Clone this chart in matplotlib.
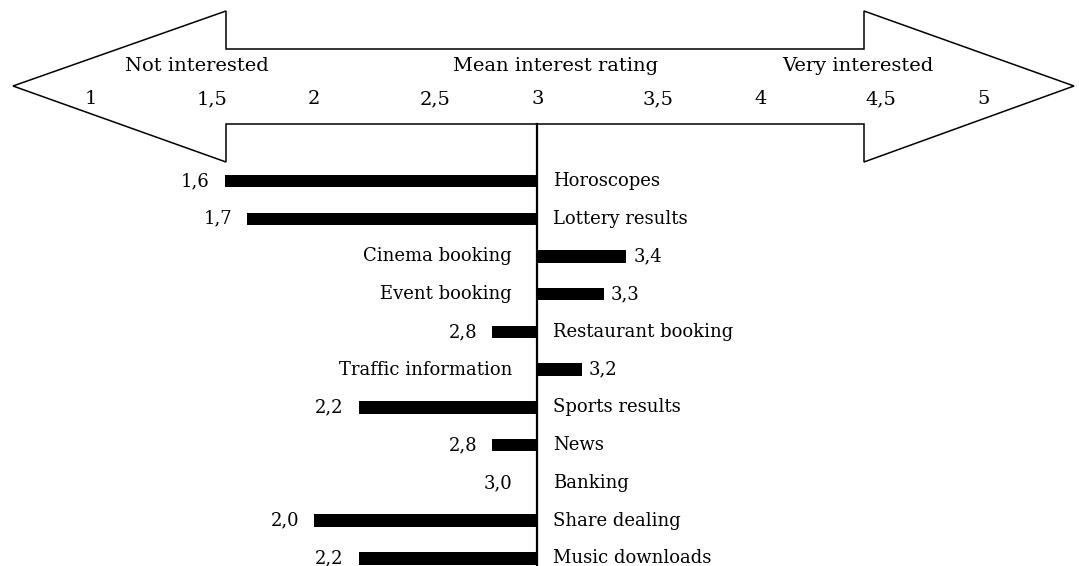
import matplotlib.pyplot as plt
from matplotlib.patches import Polygon
from matplotlib.transforms import blended_transform_factory

categories = ['Horoscopes', 'Lottery results', 'Cinema booking', 'Event booking',
              'Restaurant booking', 'Traffic information', 'Sports results', 'News',
              'Banking', 'Share dealing', 'Music downloads']
ratings = [1.6, 1.7, 3.4, 3.3, 2.8, 3.2, 2.2, 2.8, 3.0, 2.0, 2.2]
scale_ticks = [1, 1.5, 2, 2.5, 3, 3.5, 4, 4.5, 5]
scale_labels = ['1', '1,5', '2', '2,5', '3', '3,5', '4', '4,5', '5']
midpoint = 3

font = 'DejaVu Serif'
plt.rcParams['font.family'] = font

fig = plt.figure(figsize=(10.79, 5.66), dpi=100)

# background axes in pixel units for the double arrow
bg = fig.add_axes([0, 0, 1, 1])
bg.set_xlim(0, 1079)
bg.set_ylim(566, 0)
bg.axis('off')

arrow = [(13, 86), (226, 11), (226, 49), (864, 49), (864, 11), (1074, 86),
         (864, 162), (864, 124), (226, 124), (226, 162)]
bg.add_patch(Polygon(arrow, closed=True, facecolor='white', edgecolor='black', lw=1.1))

bg.text(197, 66, 'Not interested', ha='center', va='center', fontsize=14)
bg.text(556, 66, 'Mean interest rating', ha='center', va='center', fontsize=14)
bg.text(858, 66, 'Very interested', ha='center', va='center', fontsize=14)

# data axes: x is the rating scale, y is the row index
ax = fig.add_axes([0, 0, 1, 1])
ax.patch.set_alpha(0)
ax.set_xlim(midpoint - 537 / 223, midpoint + 542 / 223)
ax.set_ylim(10.2, -4.795)
ax.axis('off')

hdr = blended_transform_factory(ax.transData, bg.transData)
for t, lab in zip(scale_ticks, scale_labels):
    ax.annotate(lab, (t, 99), xycoords=hdr, xytext=(-6, 0), textcoords='offset pixels',
                ha='left', va='center', fontsize=14)

ax.plot([midpoint, midpoint], [124, 566], color='black', lw=1.6, transform=hdr)

rows = list(range(len(categories)))
ax.barh(rows, [r - midpoint for r in ratings], left=midpoint, height=0.33,
        color='black', linewidth=0)

fs = 13
for i, (cat, r) in enumerate(zip(categories, ratings)):
    val = f'{r:.1f}'.replace('.', ',')
    if r > midpoint:
        ax.annotate(cat, (midpoint, i), xytext=(-25, 0), textcoords='offset pixels',
                    ha='right', va='center', fontsize=fs)
        ax.annotate(val, (r, i), xytext=(7, 0), textcoords='offset pixels',
                    ha='left', va='center', fontsize=fs)
    else:
        ax.annotate(cat, (midpoint, i), xytext=(16, 0), textcoords='offset pixels',
                    ha='left', va='center', fontsize=fs)
        if r == midpoint:
            ax.annotate(val, (r, i), xytext=(-25, 0), textcoords='offset pixels',
                        ha='right', va='center', fontsize=fs)
        else:
            ax.annotate(val, (r, i), xytext=(-15, 0), textcoords='offset pixels',
                        ha='right', va='center', fontsize=fs)

fig.savefig('out.png', dpi=100, facecolor='white')
